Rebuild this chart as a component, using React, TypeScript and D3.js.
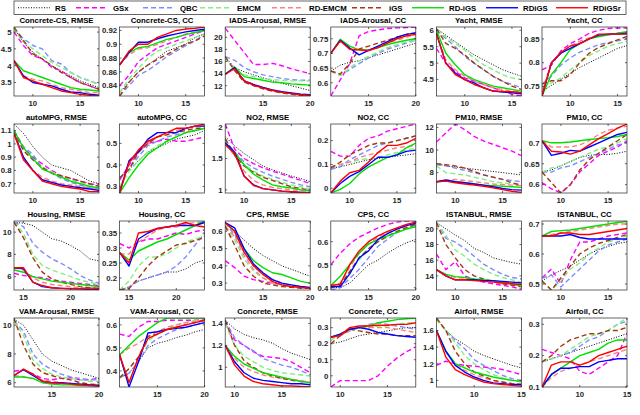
import React from 'react';
import * as d3 from 'd3';

const seriesNames = ['RS', 'GSx', 'QBC', 'EMCM', 'RD-EMCM', 'iGS', 'RD-iGS', 'RDiGS', 'RDiGSr'];

const panelTitles = [
  'Concrete-CS, RMSE', 'Concrete-CS, CC', 'IADS-Arousal, RMSE', 'IADS-Arousal, CC', 'Yacht, RMSE', 'Yacht, CC',
  'autoMPG, RMSE', 'autoMPG, CC', 'NO2, RMSE', 'NO2, CC', 'PM10, RMSE', 'PM10, CC',
  'Housing, RMSE', 'Housing, CC', 'CPS, RMSE', 'CPS, CC', 'ISTANBUL, RMSE', 'ISTANBUL, CC',
  'VAM-Arousal, RMSE', 'VAM-Arousal, CC', 'Concrete, RMSE', 'Concrete, CC', 'Airfoil, RMSE', 'Airfoil, CC',
];

const panelXStart = [8, 8, 11, 11, 7, 7, 8, 8, 8, 8, 8, 8, 14, 14, 11, 11, 8, 8, 11, 11, 9, 9, 6, 6];

const panelYDomain = [
  [3.1, 5.15], [0.825, 0.925], [10.3, 21.7], [0.555, 0.79], [4.0, 6.1], [0.73, 0.875],
  [0.63, 1.15], [0.27, 0.59], [0.95, 2.05], [-0.02, 0.27], [6.2, 12.3], [0.58, 0.745],
  [4.8, 11], [0.16, 0.39], [0.26, 0.66], [0.39, 0.69], [12.2, 21], [0.48, 0.71],
  [5.7, 10.5], [0.33, 0.63], [0.82, 1.45], [-0.07, 0.36], [0.92, 1.75], [0.1, 0.32],
];

const panelYTicks = [
  [3.5, 4, 4.5, 5], [0.84, 0.86, 0.88, 0.9, 0.92], [12, 14, 16, 18, 20], [0.6, 0.65, 0.7, 0.75], [4.5, 5, 5.5, 6], [0.75, 0.8, 0.85],
  [0.7, 0.8, 0.9, 1, 1.1], [0.3, 0.4, 0.5], [1, 1.5, 2], [0, 0.1, 0.2], [8, 10, 12], [0.6, 0.65, 0.7],
  [6, 8, 10], [0.2, 0.25, 0.3, 0.35], [0.3, 0.4, 0.5, 0.6], [0.4, 0.5, 0.6], [14, 16, 18, 20], [0.5, 0.6, 0.7],
  [6, 8, 10], [0.4, 0.5, 0.6], [1, 1.2, 1.4], [0, 0.1, 0.2, 0.3], [1, 1.2, 1.4, 1.6], [0.1, 0.2, 0.3],
];

const panelXTicks = [
  [10, 15], [10, 15], [15, 20], [15, 20], [10, 15], [10, 15],
  [10, 15], [10, 15], [10, 15], [10, 15], [10, 15], [10, 15],
  [15, 20], [15, 20], [15, 20], [15, 20], [10, 15], [10, 15],
  [15, 20], [15, 20], [10, 15], [10, 15], [10, 15], [10, 15],
];

// series order: RS, GSx, QBC, EMCM, RD-EMCM, iGS, RD-iGS, RDiGS, RDiGSr
const concreteCsRmse = [
  [5.1, 4.7, 4.4, 4.2, 4.0, 3.85, 3.7, 3.55, 3.45, 3.35],
  [5.0, 4.6, 4.3, 4.2, 3.95, 3.85, 3.65, 3.5, 3.4, 3.3],
  [5.1, 4.8, 4.6, 4.5, 4.15, 4.05, 3.8, 3.65, 3.55, 3.45],
  [5.1, 4.7, 4.5, 4.3, 4.1, 3.95, 3.8, 3.65, 3.55, 3.45],
  [4.1, 3.7, 3.6, 3.55, 3.45, 3.35, 3.3, 3.25, 3.2, 3.2],
  [5.15, 4.75, 4.35, 4.2, 4.0, 3.8, 3.65, 3.5, 3.4, 3.3],
  [4.15, 3.85, 3.75, 3.65, 3.55, 3.45, 3.35, 3.3, 3.28, 3.25],
  [4.15, 3.7, 3.5, 3.45, 3.4, 3.3, 3.22, 3.2, 3.15, 3.12],
  [4.15, 3.65, 3.55, 3.45, 3.35, 3.25, 3.2, 3.15, 3.12, 3.1],
];
const concreteCsCc = [
  [0.83, 0.845, 0.86, 0.87, 0.88, 0.89, 0.895, 0.9, 0.91, 0.915],
  [0.84, 0.855, 0.875, 0.885, 0.895, 0.9, 0.905, 0.91, 0.915, 0.92],
  [0.825, 0.84, 0.855, 0.862, 0.872, 0.882, 0.89, 0.898, 0.905, 0.915],
  [0.83, 0.85, 0.865, 0.88, 0.89, 0.895, 0.9, 0.905, 0.91, 0.915],
  [0.87, 0.885, 0.893, 0.895, 0.9, 0.905, 0.91, 0.915, 0.917, 0.92],
  [0.825, 0.845, 0.86, 0.87, 0.878, 0.885, 0.893, 0.9, 0.905, 0.912],
  [0.87, 0.888, 0.895, 0.897, 0.902, 0.907, 0.91, 0.914, 0.917, 0.92],
  [0.87, 0.888, 0.903, 0.903, 0.908, 0.912, 0.915, 0.918, 0.92, 0.922],
  [0.87, 0.89, 0.9, 0.9, 0.91, 0.915, 0.92, 0.922, 0.923, 0.925],
];
const iadsRmse = [
  [16.7, 15.0, 14.3, 13.8, 13.3, 12.8, 12.4, 12.0, 11.6, 11.2],
  [21.5, 19.5, 17.5, 15.5, 15.5, 15.7, 15.3, 14.8, 14.4, 14.0],
  [16.8, 16.2, 15.0, 14.3, 13.8, 13.5, 13.2, 13.0, 12.9, 12.9],
  [16.5, 14.8, 13.8, 13.5, 13.2, 13.0, 12.9, 12.8, 12.8, 12.8],
  [13.9, 15.0, 12.9, 12.2, 11.7, 11.3, 11.0, 10.8, 10.6, 10.5],
  [16.8, 14.5, 12.6, 12.0, 11.5, 11.1, 10.8, 10.6, 10.4, 10.3],
  [13.9, 15.1, 13.5, 13.2, 12.9, 12.6, 12.5, 12.3, 12.2, 12.1],
  [13.9, 15.0, 12.8, 12.2, 11.7, 11.3, 11.0, 10.8, 10.6, 10.5],
  [13.9, 14.8, 12.8, 12.1, 11.6, 11.2, 10.9, 10.7, 10.5, 10.4],
];
const iadsCc = [
  [0.64, 0.66, 0.67, 0.675, 0.685, 0.695, 0.705, 0.715, 0.725, 0.735],
  [0.555, 0.61, 0.665, 0.76, 0.775, 0.78, 0.785, 0.787, 0.788, 0.79],
  [0.64, 0.625, 0.645, 0.665, 0.685, 0.7, 0.715, 0.725, 0.735, 0.745],
  [0.64, 0.625, 0.65, 0.675, 0.69, 0.705, 0.72, 0.73, 0.74, 0.745],
  [0.7, 0.745, 0.715, 0.71, 0.71, 0.72, 0.735, 0.745, 0.755, 0.765],
  [0.64, 0.63, 0.665, 0.715, 0.725, 0.735, 0.745, 0.755, 0.765, 0.77],
  [0.7, 0.748, 0.725, 0.712, 0.712, 0.72, 0.73, 0.738, 0.745, 0.75],
  [0.7, 0.745, 0.718, 0.695, 0.71, 0.725, 0.74, 0.755, 0.765, 0.77],
  [0.7, 0.742, 0.714, 0.712, 0.71, 0.72, 0.735, 0.75, 0.76, 0.765],
];
const yachtRmse = [
  [6.05, 5.85, 5.65, 5.45, 5.25, 5.1, 4.95, 4.8, 4.7, 4.6],
  [5.45, 5.0, 4.75, 4.55, 4.45, 4.35, 4.25, 4.15, 4.05, 4.0],
  [6.0, 5.75, 5.5, 5.2, 5.0, 4.8, 4.6, 4.45, 4.35, 4.25],
  [6.0, 5.8, 5.6, 5.4, 5.15, 4.95, 4.8, 4.65, 4.55, 4.5],
  [5.9, 5.1, 4.8, 4.6, 4.45, 4.35, 4.25, 4.2, 4.15, 4.12],
  [6.05, 5.6, 5.45, 5.25, 5.0, 4.8, 4.6, 4.45, 4.3, 4.2],
  [6.0, 5.3, 4.95, 4.65, 4.5, 4.4, 4.3, 4.25, 4.2, 4.15],
  [5.9, 5.0, 4.7, 4.5, 4.4, 4.25, 4.15, 4.12, 4.1, 4.07],
  [5.9, 5.0, 4.65, 4.5, 4.35, 4.25, 4.15, 4.14, 4.13, 4.1],
];
const yachtCc = [
  [0.74, 0.752, 0.765, 0.778, 0.79, 0.8, 0.81, 0.82, 0.83, 0.836],
  [0.785, 0.795, 0.825, 0.84, 0.85, 0.862, 0.868, 0.872, 0.873, 0.873],
  [0.755, 0.772, 0.795, 0.81, 0.822, 0.83, 0.838, 0.842, 0.846, 0.85],
  [0.75, 0.757, 0.768, 0.785, 0.8, 0.815, 0.825, 0.835, 0.84, 0.845],
  [0.74, 0.8, 0.82, 0.835, 0.845, 0.852, 0.856, 0.86, 0.862, 0.865],
  [0.755, 0.762, 0.762, 0.775, 0.8, 0.82, 0.832, 0.84, 0.848, 0.855],
  [0.73, 0.775, 0.8, 0.828, 0.84, 0.85, 0.855, 0.858, 0.862, 0.865],
  [0.73, 0.8, 0.82, 0.83, 0.84, 0.85, 0.858, 0.86, 0.86, 0.862],
  [0.73, 0.8, 0.822, 0.835, 0.84, 0.85, 0.86, 0.86, 0.86, 0.86],
];
const autoMpgRmse = [
  [1.15, 1.08, 0.98, 0.9, 0.84, 0.82, 0.8, 0.76, 0.72, 0.7],
  [1.1, 0.97, 0.9, 0.85, 0.8, 0.76, 0.74, 0.72, 0.7, 0.69],
  [1.1, 0.98, 0.92, 0.82, 0.78, 0.74, 0.71, 0.69, 0.67, 0.66],
  [1.1, 0.95, 0.88, 0.83, 0.79, 0.76, 0.73, 0.71, 0.69, 0.68],
  [1.08, 0.9, 0.8, 0.75, 0.72, 0.7, 0.69, 0.68, 0.67, 0.66],
  [1.1, 0.95, 0.88, 0.82, 0.78, 0.76, 0.74, 0.72, 0.7, 0.68],
  [1.1, 0.97, 0.89, 0.81, 0.78, 0.75, 0.72, 0.7, 0.68, 0.67],
  [1.08, 0.9, 0.8, 0.73, 0.71, 0.69, 0.68, 0.67, 0.66, 0.65],
  [1.08, 0.88, 0.8, 0.72, 0.7, 0.68, 0.67, 0.66, 0.64, 0.64],
];
const autoMpgCc = [
  [0.34, 0.38, 0.42, 0.46, 0.48, 0.5, 0.52, 0.53, 0.54, 0.56],
  [0.33, 0.4, 0.46, 0.5, 0.51, 0.52, 0.51, 0.51, 0.52, 0.53],
  [0.34, 0.38, 0.44, 0.49, 0.51, 0.53, 0.54, 0.55, 0.56, 0.57],
  [0.3, 0.37, 0.42, 0.46, 0.49, 0.51, 0.53, 0.55, 0.56, 0.57],
  [0.28, 0.41, 0.46, 0.5, 0.53, 0.55, 0.56, 0.57, 0.58, 0.58],
  [0.34, 0.38, 0.46, 0.5, 0.53, 0.54, 0.55, 0.56, 0.57, 0.57],
  [0.27, 0.34, 0.4, 0.45, 0.48, 0.51, 0.53, 0.55, 0.56, 0.57],
  [0.27, 0.42, 0.46, 0.52, 0.55, 0.55, 0.55, 0.57, 0.58, 0.58],
  [0.27, 0.41, 0.47, 0.51, 0.53, 0.55, 0.57, 0.57, 0.58, 0.59],
];
const no2Rmse = [
  [1.85, 1.7, 1.58, 1.48, 1.38, 1.32, 1.27, 1.22, 1.18, 1.13],
  [2.05, 1.65, 1.5, 1.42, 1.35, 1.3, 1.25, 1.2, 1.15, 1.1],
  [1.8, 1.6, 1.45, 1.35, 1.28, 1.22, 1.17, 1.12, 1.08, 1.05],
  [1.75, 1.55, 1.4, 1.3, 1.22, 1.17, 1.12, 1.08, 1.05, 1.02],
  [1.75, 1.55, 1.3, 1.15, 1.08, 1.04, 1.02, 1.0, 0.99, 0.98],
  [1.82, 1.55, 1.38, 1.28, 1.2, 1.15, 1.1, 1.05, 1.02, 1.0],
  [1.75, 1.6, 1.4, 1.25, 1.16, 1.08, 1.05, 1.03, 1.0, 0.99],
  [1.75, 1.6, 1.22, 1.08, 1.02, 1.0, 0.98, 0.97, 0.96, 0.96],
  [1.72, 1.58, 1.22, 1.07, 1.02, 1.0, 0.98, 0.97, 0.96, 0.95],
];
const no2Cc = [
  [0.085, 0.09, 0.1, 0.11, 0.12, 0.125, 0.13, 0.135, 0.14, 0.145],
  [0.155, 0.135, 0.135, 0.18, 0.21, 0.22, 0.24, 0.25, 0.26, 0.27],
  [0.08, 0.09, 0.12, 0.14, 0.16, 0.18, 0.19, 0.2, 0.21, 0.22],
  [0.09, 0.1, 0.11, 0.12, 0.125, 0.13, 0.14, 0.15, 0.16, 0.17],
  [0.09, 0.1, 0.11, 0.13, 0.14, 0.15, 0.16, 0.17, 0.175, 0.18],
  [0.085, 0.11, 0.14, 0.16, 0.18, 0.19, 0.19, 0.2, 0.21, 0.22],
  [-0.02, -0.005, 0.02, 0.06, 0.09, 0.11, 0.13, 0.14, 0.17, 0.19],
  [-0.02, 0.02, 0.05, 0.07, 0.1, 0.13, 0.13, 0.14, 0.155, 0.16],
  [-0.02, 0.03, 0.065, 0.075, 0.11, 0.15, 0.18, 0.18, 0.19, 0.21],
];
const pm10Rmse = [
  [8.8, 8.6, 8.5, 8.4, 8.3, 8.2, 8.1, 8.0, 7.9, 7.8],
  [10.7, 11.5, 12.3, 11.8, 11.2, 10.8, 10.5, 10.2, 9.9, 9.5],
  [8.7, 8.6, 8.4, 8.2, 8.0, 7.8, 7.6, 7.4, 7.3, 7.2],
  [8.6, 8.0, 7.9, 7.8, 7.6, 7.4, 7.2, 7.1, 7.0, 6.95],
  [7.2, 7.3, 7.4, 7.3, 7.2, 7.1, 7.0, 6.95, 6.9, 6.85],
  [8.8, 8.7, 8.6, 8.4, 8.1, 7.8, 7.6, 7.4, 7.1, 6.9],
  [7.2, 7.25, 7.2, 7.1, 7.0, 6.9, 6.85, 6.8, 6.75, 6.7],
  [7.2, 7.35, 7.2, 7.1, 7.0, 6.9, 6.75, 6.6, 6.5, 6.45],
  [7.2, 7.25, 7.1, 7.0, 6.9, 6.8, 6.65, 6.5, 6.35, 6.25],
];
const pm10Cc = [
  [0.63, 0.635, 0.645, 0.655, 0.665, 0.67, 0.672, 0.672, 0.675, 0.68],
  [0.605, 0.59, 0.58, 0.6, 0.63, 0.65, 0.67, 0.68, 0.69, 0.705],
  [0.63, 0.63, 0.64, 0.645, 0.655, 0.665, 0.675, 0.685, 0.695, 0.7],
  [0.63, 0.64, 0.645, 0.655, 0.665, 0.675, 0.685, 0.69, 0.7, 0.71],
  [0.705, 0.69, 0.69, 0.69, 0.695, 0.705, 0.72, 0.73, 0.735, 0.74],
  [0.63, 0.605, 0.58, 0.6, 0.635, 0.66, 0.675, 0.69, 0.705, 0.72],
  [0.705, 0.7, 0.7, 0.702, 0.705, 0.708, 0.71, 0.712, 0.715, 0.72],
  [0.705, 0.67, 0.675, 0.682, 0.68, 0.69, 0.7, 0.71, 0.72, 0.725],
  [0.705, 0.68, 0.678, 0.673, 0.68, 0.695, 0.71, 0.722, 0.735, 0.745],
];
const housingRmse = [
  [10.9, 10.8, 10.6, 10.0, 9.4, 9.2, 8.8, 8.3, 7.6, 7.4],
  [6.3, 6.1, 6.0, 5.9, 5.7, 5.6, 5.5, 5.4, 5.3, 5.2],
  [10.9, 10.5, 9.0, 8.2, 7.6, 7.2, 6.7, 6.1, 5.7, 5.4],
  [10.9, 9.9, 8.0, 7.0, 6.6, 6.3, 6.0, 5.7, 5.5, 5.3],
  [6.8, 6.6, 5.9, 5.5, 5.3, 5.2, 5.1, 5.0, 5.0, 4.95],
  [10.9, 9.5, 7.7, 6.4, 5.8, 5.5, 5.3, 5.1, 5.0, 4.95],
  [6.6, 6.4, 6.0, 5.8, 5.6, 5.5, 5.4, 5.3, 5.2, 5.1],
  [6.8, 6.7, 5.5, 5.1, 5.0, 4.95, 4.9, 4.9, 4.85, 4.85],
  [6.8, 6.8, 5.5, 5.2, 5.0, 4.95, 4.95, 4.9, 4.9, 4.9],
];
const housingCc = [
  [0.16, 0.17, 0.19, 0.2, 0.21, 0.22, 0.22, 0.23, 0.25, 0.26],
  [0.315, 0.3, 0.32, 0.33, 0.33, 0.34, 0.35, 0.345, 0.355, 0.36],
  [0.16, 0.17, 0.19, 0.2, 0.21, 0.22, 0.24, 0.27, 0.31, 0.35],
  [0.16, 0.19, 0.24, 0.27, 0.27, 0.28, 0.3, 0.32, 0.33, 0.34],
  [0.28, 0.28, 0.32, 0.34, 0.36, 0.37, 0.37, 0.38, 0.385, 0.385],
  [0.16, 0.165, 0.2, 0.24, 0.27, 0.29, 0.31, 0.315, 0.325, 0.335],
  [0.285, 0.26, 0.29, 0.305, 0.32, 0.33, 0.345, 0.36, 0.375, 0.39],
  [0.285, 0.24, 0.33, 0.35, 0.365, 0.37, 0.375, 0.375, 0.375, 0.385],
  [0.285, 0.25, 0.35, 0.355, 0.365, 0.37, 0.375, 0.385, 0.375, 0.37],
];
const cpsRmse = [
  [0.65, 0.6, 0.55, 0.5, 0.46, 0.43, 0.4, 0.38, 0.36, 0.34],
  [0.43, 0.39, 0.34, 0.32, 0.31, 0.3, 0.29, 0.28, 0.275, 0.27],
  [0.65, 0.58, 0.48, 0.4, 0.35, 0.32, 0.3, 0.285, 0.275, 0.27],
  [0.63, 0.55, 0.44, 0.37, 0.33, 0.3, 0.29, 0.28, 0.275, 0.27],
  [0.63, 0.57, 0.46, 0.38, 0.33, 0.3, 0.29, 0.28, 0.275, 0.27],
  [0.63, 0.52, 0.4, 0.34, 0.3, 0.29, 0.28, 0.275, 0.27, 0.27],
  [0.65, 0.6, 0.5, 0.43, 0.39, 0.36, 0.35, 0.33, 0.31, 0.3],
  [0.65, 0.62, 0.5, 0.41, 0.36, 0.32, 0.3, 0.29, 0.28, 0.275],
  [0.65, 0.6, 0.48, 0.4, 0.35, 0.31, 0.29, 0.28, 0.275, 0.27],
];
const cpsCc = [
  [0.4, 0.4, 0.42, 0.46, 0.5, 0.52, 0.55, 0.575, 0.595, 0.61],
  [0.5, 0.55, 0.59, 0.62, 0.64, 0.66, 0.675, 0.685, 0.69, 0.69],
  [0.39, 0.4, 0.44, 0.48, 0.53, 0.58, 0.61, 0.64, 0.66, 0.675],
  [0.4, 0.42, 0.47, 0.52, 0.57, 0.6, 0.62, 0.64, 0.655, 0.67],
  [0.41, 0.42, 0.49, 0.55, 0.59, 0.62, 0.64, 0.655, 0.665, 0.675],
  [0.4, 0.41, 0.47, 0.53, 0.57, 0.6, 0.625, 0.645, 0.66, 0.675],
  [0.41, 0.45, 0.5, 0.55, 0.59, 0.61, 0.625, 0.64, 0.655, 0.665],
  [0.405, 0.405, 0.46, 0.53, 0.56, 0.61, 0.635, 0.655, 0.67, 0.68],
  [0.41, 0.415, 0.5, 0.56, 0.6, 0.625, 0.645, 0.66, 0.675, 0.685],
];
const istanbulRmse = [
  [20.8, 20.0, 19.2, 18.5, 17.5, 17.0, 16.3, 16.0, 15.7, 15.5],
  [16.8, 14.8, 15.8, 14.0, 13.5, 13.2, 13.0, 12.8, 12.6, 12.3],
  [20.8, 18.8, 18.3, 17.5, 16.5, 15.5, 14.8, 14.2, 13.8, 13.6],
  [20.8, 19.2, 17.3, 16.5, 15.5, 14.8, 14.2, 13.8, 13.5, 13.2],
  [14.8, 14.2, 13.8, 13.7, 13.5, 13.4, 13.3, 13.1, 12.9, 12.8],
  [20.8, 18.0, 16.3, 14.8, 14.0, 13.6, 13.3, 13.0, 12.8, 12.6],
  [14.8, 14.2, 13.9, 13.8, 13.6, 13.5, 13.4, 13.2, 13.0, 12.7],
  [14.8, 14.0, 13.5, 13.5, 13.5, 13.4, 13.4, 13.3, 13.2, 13.1],
  [14.8, 14.0, 13.5, 13.5, 13.4, 13.3, 13.2, 13.1, 13.0, 12.9],
];
const istanbulCc = [
  [0.51, 0.53, 0.545, 0.56, 0.58, 0.6, 0.615, 0.625, 0.635, 0.64],
  [0.52, 0.55, 0.5, 0.58, 0.64, 0.64, 0.65, 0.66, 0.665, 0.67],
  [0.52, 0.53, 0.49, 0.52, 0.55, 0.58, 0.61, 0.63, 0.64, 0.65],
  [0.51, 0.48, 0.51, 0.55, 0.57, 0.6, 0.62, 0.64, 0.65, 0.66],
  [0.66, 0.665, 0.67, 0.675, 0.68, 0.685, 0.69, 0.695, 0.7, 0.7],
  [0.51, 0.48, 0.52, 0.56, 0.6, 0.62, 0.635, 0.645, 0.655, 0.665],
  [0.66, 0.675, 0.678, 0.68, 0.685, 0.69, 0.695, 0.7, 0.705, 0.708],
  [0.66, 0.66, 0.66, 0.665, 0.655, 0.65, 0.65, 0.65, 0.65, 0.65],
  [0.66, 0.66, 0.67, 0.67, 0.665, 0.665, 0.67, 0.675, 0.68, 0.685],
];
const vamRmse = [
  [10.4, 10.0, 9.0, 8.0, 7.5, 7.2, 6.9, 6.7, 6.5, 6.3],
  [6.8, 6.9, 6.6, 6.3, 6.2, 6.3, 6.35, 6.2, 6.2, 6.3],
  [10.3, 9.6, 8.0, 7.3, 6.9, 6.6, 6.4, 6.3, 6.2, 6.2],
  [10.3, 9.3, 7.6, 7.0, 6.6, 6.4, 6.3, 6.2, 6.1, 6.1],
  [6.5, 6.4, 6.3, 6.2, 6.1, 6.0, 5.95, 5.9, 5.85, 5.85],
  [10.5, 8.6, 7.3, 6.7, 6.5, 6.3, 6.2, 6.0, 5.9, 5.85],
  [6.4, 6.4, 6.3, 6.0, 5.9, 5.85, 5.85, 5.8, 5.8, 5.8],
  [6.5, 6.9, 6.5, 6.1, 6.0, 6.0, 5.95, 5.9, 5.85, 5.8],
  [6.5, 6.95, 6.6, 6.1, 6.0, 5.95, 5.9, 5.85, 5.8, 5.75],
];
const vamCc = [
  [0.37, 0.39, 0.44, 0.5, 0.52, 0.53, 0.545, 0.555, 0.57, 0.58],
  [0.56, 0.55, 0.59, 0.615, 0.615, 0.62, 0.62, 0.62, 0.62, 0.625],
  [0.37, 0.39, 0.44, 0.51, 0.54, 0.56, 0.58, 0.59, 0.6, 0.61],
  [0.37, 0.41, 0.46, 0.53, 0.56, 0.58, 0.6, 0.61, 0.62, 0.62],
  [0.47, 0.5, 0.52, 0.55, 0.57, 0.59, 0.6, 0.61, 0.615, 0.62],
  [0.37, 0.41, 0.46, 0.55, 0.56, 0.58, 0.59, 0.6, 0.61, 0.62],
  [0.47, 0.51, 0.55, 0.58, 0.61, 0.63, 0.63, 0.63, 0.63, 0.63],
  [0.47, 0.33, 0.44, 0.565, 0.57, 0.58, 0.585, 0.59, 0.6, 0.61],
  [0.47, 0.35, 0.46, 0.54, 0.56, 0.58, 0.59, 0.6, 0.61, 0.62],
];
const concreteRmse = [
  [1.43, 1.35, 1.3, 1.27, 1.25, 1.22, 1.17, 1.13, 1.1, 1.07],
  [1.4, 1.25, 1.2, 1.14, 1.1, 1.09, 1.08, 1.05, 1.0, 0.95],
  [1.43, 1.27, 1.2, 1.15, 1.08, 1.05, 1.02, 1.0, 0.97, 0.93],
  [1.4, 1.2, 1.1, 1.05, 1.0, 0.97, 0.95, 0.94, 0.93, 0.92],
  [1.2, 1.08, 1.0, 0.96, 0.93, 0.91, 0.9, 0.89, 0.88, 0.86],
  [1.43, 1.2, 1.06, 1.0, 0.95, 0.92, 0.9, 0.88, 0.87, 0.86],
  [1.2, 1.1, 1.03, 0.99, 0.95, 0.93, 0.91, 0.89, 0.87, 0.86],
  [1.2, 1.05, 0.95, 0.9, 0.88, 0.87, 0.86, 0.85, 0.85, 0.84],
  [1.2, 1.02, 0.92, 0.87, 0.85, 0.84, 0.83, 0.83, 0.825, 0.82],
];
const concreteCc = [
  [0.2, 0.21, 0.23, 0.25, 0.26, 0.27, 0.28, 0.29, 0.3, 0.3],
  [-0.07, -0.03, -0.03, -0.03, -0.03, 0.0, 0.06, 0.11, 0.15, 0.18],
  [0.24, 0.25, 0.28, 0.3, 0.32, 0.33, 0.32, 0.31, 0.3, 0.29],
  [0.22, 0.26, 0.28, 0.3, 0.3, 0.31, 0.31, 0.32, 0.33, 0.33],
  [0.24, 0.25, 0.28, 0.3, 0.3, 0.3, 0.3, 0.29, 0.28, 0.27],
  [0.2, 0.25, 0.29, 0.28, 0.27, 0.26, 0.26, 0.25, 0.25, 0.25],
  [0.24, 0.26, 0.29, 0.3, 0.31, 0.33, 0.34, 0.35, 0.355, 0.36],
  [0.24, 0.26, 0.29, 0.3, 0.29, 0.27, 0.26, 0.25, 0.245, 0.24],
  [0.24, 0.25, 0.3, 0.31, 0.31, 0.315, 0.315, 0.32, 0.32, 0.33],
];
const airfoilRmse = [
  [1.75, 1.6, 1.5, 1.43, 1.35, 1.3, 1.26, 1.22, 1.18, 1.15],
  [1.18, 1.23, 1.2, 1.18, 1.17, 1.16, 1.15, 1.13, 1.1, 1.07],
  [1.75, 1.6, 1.48, 1.38, 1.25, 1.18, 1.12, 1.06, 1.02, 1.0],
  [1.73, 1.6, 1.45, 1.3, 1.2, 1.13, 1.07, 1.03, 1.0, 0.98],
  [1.6, 1.35, 1.2, 1.12, 1.07, 1.03, 1.0, 0.98, 0.96, 0.95],
  [1.75, 1.6, 1.35, 1.2, 1.1, 1.05, 1.0, 0.98, 0.96, 0.95],
  [1.6, 1.35, 1.2, 1.15, 1.1, 1.07, 1.04, 1.02, 1.0, 0.99],
  [1.6, 1.35, 1.18, 1.1, 1.04, 1.0, 0.97, 0.96, 0.95, 0.95],
  [1.6, 1.28, 1.13, 1.07, 1.02, 0.98, 0.96, 0.95, 0.94, 0.93],
];
const airfoilCc = [
  [0.18, 0.19, 0.2, 0.21, 0.22, 0.23, 0.24, 0.25, 0.26, 0.27],
  [0.22, 0.21, 0.2, 0.19, 0.15, 0.14, 0.16, 0.18, 0.2, 0.27],
  [0.18, 0.19, 0.2, 0.21, 0.23, 0.25, 0.26, 0.28, 0.3, 0.31],
  [0.18, 0.19, 0.2, 0.22, 0.24, 0.26, 0.27, 0.28, 0.3, 0.32],
  [0.1, 0.13, 0.15, 0.16, 0.17, 0.18, 0.19, 0.2, 0.21, 0.22],
  [0.18, 0.2, 0.23, 0.25, 0.26, 0.27, 0.27, 0.28, 0.28, 0.29],
  [0.1, 0.14, 0.16, 0.18, 0.2, 0.21, 0.22, 0.24, 0.25, 0.25],
  [0.1, 0.14, 0.16, 0.16, 0.165, 0.165, 0.18, 0.185, 0.19, 0.19],
  [0.1, 0.17, 0.18, 0.18, 0.17, 0.18, 0.2, 0.21, 0.22, 0.23],
];

const panelData = [
  concreteCsRmse, concreteCsCc, iadsRmse, iadsCc, yachtRmse, yachtCc,
  autoMpgRmse, autoMpgCc, no2Rmse, no2Cc, pm10Rmse, pm10Cc,
  housingRmse, housingCc, cpsRmse, cpsCc, istanbulRmse, istanbulCc,
  vamRmse, vamCc, concreteRmse, concreteCc, airfoilRmse, airfoilCc,
];

// styles
const COLORS = ['#000000', '#ff00ff', '#7f8cff', '#80ee80', '#ff8080', '#a03a10', '#00e000', '#0000ff', '#ff0000'];
const DASH = ['1,1.6', '5,3', '5,3', '5,3', '5,3', '5,3', '', '', ''];
const WIDTH = [1, 1.4, 1.4, 1.4, 1.4, 1.4, 1.4, 1.4, 1.4];

const W = 640;
const H = 415;
const COL_LEFT0 = 14;
const COL_STEP = 105.6;
const BOX_W = 85;
const ROW_TOPS = [27, 124, 221, 318];
const BOX_H = 69;
const FS = 7.8;
const FONT = '"Liberation Sans", Arial, Helvetica, sans-serif';
const AXIS_COLOR = '#262626';

const LEGEND_X = [18, 76, 143, 200, 272, 352, 412, 486, 556];

function Panel({ idx }: { idx: number }) {
  const col = idx % 6;
  const row = Math.floor(idx / 6);
  const x0 = COL_LEFT0 + col * COL_STEP;
  const y0 = ROW_TOPS[row];
  const xs = panelXStart[idx];
  const xScale = d3.scaleLinear().domain([xs, xs + 9]).range([x0, x0 + BOX_W]);
  const yScale = d3.scaleLinear().domain(panelYDomain[idx]).range([y0 + BOX_H, y0]);
  const line = d3
    .line<number>()
    .x((_, i) => xScale(xs + i))
    .y((d) => yScale(d));
  const clipId = `clip${idx}`;
  const tl = 2;
  return (
    <g>
      <defs>
        <clipPath id={clipId}>
          <rect x={x0} y={y0} width={BOX_W} height={BOX_H} />
        </clipPath>
      </defs>
      <g clipPath={`url(#${clipId})`}>
        {panelData[idx].map((s, si) => (
          <path
            key={si}
            d={line(s) || ''}
            fill="none"
            stroke={COLORS[si]}
            strokeWidth={WIDTH[si]}
            strokeDasharray={DASH[si] || undefined}
            strokeLinejoin="round"
          />
        ))}
      </g>
      <rect x={x0} y={y0} width={BOX_W} height={BOX_H} fill="none" stroke={AXIS_COLOR} strokeWidth={0.7} />
      {panelYTicks[idx].map((t) => {
        const y = yScale(t);
        return (
          <g key={`y${t}`}>
            <line x1={x0} x2={x0 + tl} y1={y} y2={y} stroke={AXIS_COLOR} strokeWidth={0.7} />
            <line x1={x0 + BOX_W} x2={x0 + BOX_W - tl} y1={y} y2={y} stroke={AXIS_COLOR} strokeWidth={0.7} />
            <text x={x0 - 2.5} y={y + 2.8} textAnchor="end" fontSize={FS} fontWeight="bold" fontFamily={FONT} fill="#262626">
              {String(t)}
            </text>
          </g>
        );
      })}
      {panelXTicks[idx].map((t) => {
        const x = xScale(t);
        return (
          <g key={`x${t}`}>
            <line x1={x} x2={x} y1={y0 + BOX_H} y2={y0 + BOX_H - tl} stroke={AXIS_COLOR} strokeWidth={0.7} />
            <line x1={x} x2={x} y1={y0} y2={y0 + tl} stroke={AXIS_COLOR} strokeWidth={0.7} />
            <text x={x} y={y0 + BOX_H + 9.5} textAnchor="middle" fontSize={FS} fontWeight="bold" fontFamily={FONT} fill="#262626">
              {String(t)}
            </text>
          </g>
        );
      })}
      <text x={x0 + BOX_W / 2} y={y0 - 4.5} textAnchor="middle" fontSize={FS} fontWeight="bold" fontFamily={FONT} fill="#000">
        {panelTitles[idx]}
      </text>
    </g>
  );
}

export default function App() {
  return (
    <svg width={W} height={H} style={{ position: 'absolute', left: 0, top: 0, background: '#fff' }}>
      <rect x={0} y={0} width={W} height={H} fill="#fff" />
      <rect x={14} y={1} width={612} height={13.5} fill="#fff" stroke="#262626" strokeWidth={0.7} />
      {seriesNames.map((n, i) => (
        <g key={n}>
          <line
            x1={LEGEND_X[i]}
            x2={LEGEND_X[i] + 32}
            y1={7.75}
            y2={7.75}
            stroke={COLORS[i]}
            strokeWidth={WIDTH[i]}
            strokeDasharray={DASH[i] || undefined}
          />
          <text x={LEGEND_X[i] + 37} y={10.6} fontSize={FS} fontWeight="bold" fontFamily={FONT} fill="#000">
            {n}
          </text>
        </g>
      ))}
      {panelTitles.map((_, i) => (
        <Panel key={i} idx={i} />
      ))}
    </svg>
  );
}
